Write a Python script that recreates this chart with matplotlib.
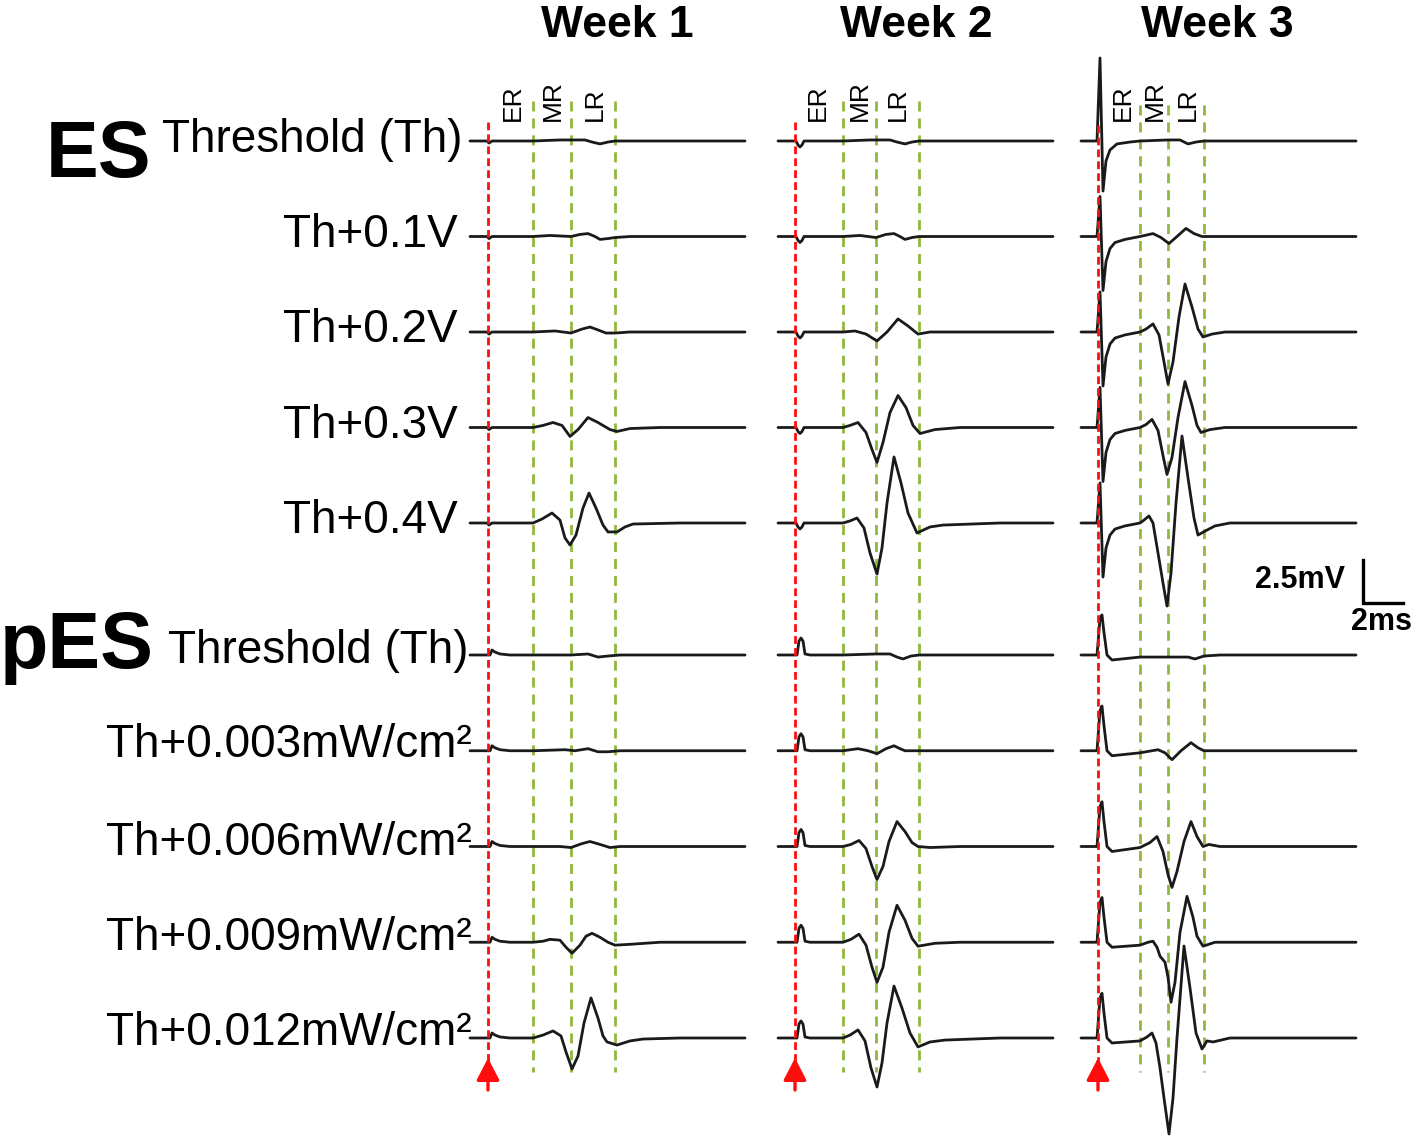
import matplotlib
matplotlib.use("Agg")
import matplotlib.pyplot as plt

plt.rcParams["font.family"] = ["Liberation Sans", "DejaVu Sans"]

W, H = 1418, 1141
PX_PER_MS = 20.0
PX_PER_MV = 17.2

# ---- text ----
weeks = ["Week 1", "Week 2", "Week 3"]
es_labels = ["Threshold (Th)", "Th+0.1V", "Th+0.2V", "Th+0.3V", "Th+0.4V"]
pes_labels = ["Threshold (Th)", "Th+0.003mW/cm²", "Th+0.006mW/cm²",
              "Th+0.009mW/cm²", "Th+0.012mW/cm²"]
window_names = ["ER", "MR", "LR"]

# ---- data: times in ms after stimulus, voltages in mV ----
# end of the ER / MR / LR windows
w1_windows = [2.25, 4.15, 6.35]
w2_windows = [2.4, 4.05, 6.2]
w3_windows = [2.1, 3.5, 5.3]

# recorded span
w1_span = [-0.9, 12.85]
w2_span = [-0.85, 12.9]
w3_span = [-0.85, 12.9]

# stimulus artifacts
w1_es_art = [(-0.05, 0), (0.05, -0.12), (0.2, 0)]
w1_pes_art = [(0.1, 0), (0.2, 0.29), (0.35, 0.17), (0.6, 0.06), (1.1, 0)]
w2_es_art = [(0.05, 0), (0.15, -0.23), (0.25, -0.35), (0.35, -0.23), (0.45, 0)]
w2_pes_art = [(0.1, 0), (0.2, 0.81), (0.3, 0.99), (0.4, 0.81), (0.5, 0.06), (0.75, 0)]
w3_es_art_first = [(-0.05, 0), (0.1, 4.83), (0.25, -2.91), (0.4, -1.16),
                   (0.6, -0.52), (0.95, -0.17), (1.6, -0.06)]
w3_es_art = [(-0.05, 0), (0.1, 2.33), (0.25, -3.14), (0.4, -1.45),
             (0.6, -0.7), (0.85, -0.35), (1.35, -0.17)]
w3_pes_art_first = [(-0.05, 0), (0.1, 2.1), (0.2, 2.33), (0.3, 1.3), (0.45, 0), (0.7, -0.29)]
w3_pes_art = [(-0.05, 0), (0.1, 2.33), (0.2, 2.6), (0.3, 1.45), (0.45, 0), (0.7, -0.29)]

# evoked responses, one list per stimulus level
w1_es = [
    [(2.25, 0), (3.6, 0.06), (4.85, 0.06), (5.2, -0.06), (5.6, -0.17), (6.0, -0.06), (6.35, 0)],
    [(2.25, 0), (3.1, 0.06), (4.15, 0), (4.6, 0.12), (5.0, 0.17), (5.35, 0), (5.6, -0.17),
     (6.0, -0.12), (6.35, -0.06), (7.1, 0)],
    [(2.25, 0), (3.35, 0.06), (4.15, -0.06), (4.7, 0.17), (5.1, 0.29), (5.5, 0.12),
     (5.9, -0.06), (6.35, -0.06), (7.1, 0)],
    [(2.25, 0), (2.75, 0.12), (3.25, 0.29), (3.7, 0.12), (4.1, -0.52), (4.5, -0.12), (5.0, 0.58),
     (5.5, 0.29), (6.1, -0.12), (6.45, -0.23), (7.1, -0.06), (8.6, 0)],
    [(2.25, 0), (2.7, 0.23), (3.2, 0.58), (3.6, 0.17), (3.85, -0.87), (4.1, -1.28), (4.4, -0.7),
     (4.75, 0.87), (5.05, 1.74), (5.4, 0.87), (5.75, -0.12), (6.0, -0.52), (6.45, -0.52),
     (6.85, -0.23), (7.25, -0.06), (9.6, 0)],
]
w1_pes = [
    [(2.25, 0), (4.15, 0), (5.0, 0.06), (5.5, -0.12), (6.0, -0.06), (6.6, 0)],
    [(2.25, 0), (3.85, 0.06), (4.35, 0), (5.0, 0.12), (5.5, -0.06), (6.0, -0.06), (6.6, 0)],
    [(2.25, 0), (3.6, 0), (4.15, -0.06), (4.7, 0.17), (5.1, 0.29), (5.6, 0.12), (6.1, -0.06), (6.6, 0)],
    [(2.25, 0), (2.75, 0.06), (3.1, 0.17), (3.6, 0.12), (3.9, -0.29), (4.2, -0.64), (4.6, -0.17),
     (4.9, 0.35), (5.2, 0.52), (5.6, 0.29), (6.0, 0), (6.35, -0.17), (7.1, -0.12), (8.6, 0)],
    [(2.25, 0), (2.75, 0.17), (3.25, 0.41), (3.65, 0.12), (3.9, -0.81), (4.2, -1.8), (4.5, -1.05),
     (4.8, 0.87), (5.15, 2.33), (5.5, 1.16), (5.75, 0.12), (5.95, -0.23), (6.45, -0.41),
     (7.1, -0.17), (7.75, -0.06), (9.6, 0)],
]
w2_es = [
    [(2.4, 0), (3.75, 0.06), (4.75, 0.06), (5.1, -0.06), (5.5, -0.17), (5.85, -0.06), (6.2, 0)],
    [(2.4, 0), (3.25, 0.06), (4.05, -0.06), (4.55, 0.12), (4.95, 0.17), (5.25, 0), (5.5, -0.17),
     (5.85, -0.06), (6.2, 0)],
    [(2.4, 0), (3.0, 0.06), (3.55, -0.12), (4.1, -0.52), (4.6, 0), (5.15, 0.76), (5.65, 0.35),
     (6.15, -0.12), (6.75, 0)],
    [(2.4, 0), (2.75, 0.12), (3.15, 0.29), (3.55, -0.29), (3.85, -1.28), (4.1, -2.03), (4.4, -0.87),
     (4.75, 0.87), (5.15, 1.86), (5.55, 1.16), (5.9, 0.12), (6.25, -0.35), (7.0, -0.12), (8.25, 0)],
    [(2.4, 0), (2.75, 0.12), (3.1, 0.29), (3.45, -0.29), (3.75, -1.74), (4.1, -2.97), (4.35, -1.45),
     (4.6, 1.16), (4.95, 3.84), (5.3, 2.33), (5.65, 0.58), (6.1, -0.58), (6.75, -0.23),
     (7.4, -0.12), (10.25, 0)],
]
w2_pes = [
    [(2.4, 0), (4.05, 0.06), (4.75, 0.06), (5.1, -0.12), (5.4, -0.23), (5.8, -0.06), (6.2, 0)],
    [(2.4, 0), (3.15, 0.12), (3.65, 0), (4.1, -0.17), (4.55, 0.12), (4.95, 0.29), (5.25, 0.12), (5.5, 0)],
    [(2.4, 0), (2.8, 0.12), (3.2, 0.35), (3.55, -0.12), (3.85, -1.16), (4.1, -1.92), (4.4, -1.16),
     (4.7, 0.29), (5.1, 1.45), (5.5, 0.87), (5.85, 0.23), (6.15, 0), (6.75, -0.06), (8.25, 0)],
    [(2.4, 0), (2.8, 0.17), (3.2, 0.47), (3.55, -0.17), (3.85, -1.45), (4.1, -2.33), (4.4, -1.45),
     (4.7, 0.58), (5.1, 2.15), (5.5, 1.28), (5.85, 0.23), (6.15, -0.23), (7.0, -0.06), (8.25, 0)],
    [(2.4, 0), (2.75, 0.17), (3.15, 0.47), (3.5, -0.17), (3.8, -1.74), (4.1, -2.85), (4.35, -1.45),
     (4.6, 0.87), (4.95, 3.02), (5.35, 1.74), (5.75, 0.29), (6.15, -0.52), (6.75, -0.23),
     (7.5, -0.12), (10.25, 0)],
]
w3_es = [
    [(2.1, 0), (3.5, 0.06), (4.1, 0.06), (4.5, -0.17), (4.9, -0.06), (5.3, 0)],
    [(2.1, 0), (2.75, 0.17), (3.15, -0.06), (3.55, -0.41), (3.95, 0), (4.4, 0.47), (4.8, 0.17), (5.2, 0)],
    [(2.1, 0), (2.4, 0.17), (2.75, 0.47), (3.05, -0.17), (3.3, -1.74), (3.5, -3.02), (3.75, -1.74),
     (4.05, 0.87), (4.35, 2.79), (4.7, 1.45), (5.0, 0.17), (5.25, -0.29), (5.7, -0.12), (6.35, 0)],
    [(2.1, 0), (2.4, 0.17), (2.7, 0.47), (3.0, -0.17), (3.25, -1.63), (3.45, -2.73), (3.7, -1.74),
     (4.0, 0.58), (4.35, 2.67), (4.7, 1.28), (4.95, 0.12), (5.15, -0.29), (5.6, -0.12), (6.35, 0)],
    [(2.1, 0), (2.3, 0.17), (2.55, 0.41), (2.75, 0), (3.0, -1.74), (3.25, -3.49), (3.45, -4.83),
     (3.65, -2.91), (3.9, 1.16), (4.2, 5.06), (4.5, 2.62), (4.8, 0.29), (5.0, -0.7), (5.45, -0.41),
     (5.85, -0.17), (6.6, 0)],
]
w3_pes = [
    [(2.1, -0.12), (3.5, -0.12), (4.5, -0.12), (4.85, -0.23), (5.3, -0.06), (6.1, 0)],
    [(2.1, -0.12), (3.0, 0.06), (3.35, -0.12), (3.7, -0.52), (4.15, 0), (4.65, 0.47), (5.0, 0.17),
     (5.3, 0), (6.1, 0)],
    [(2.1, -0.06), (2.6, 0.23), (2.95, 0.58), (3.25, -0.29), (3.5, -1.63), (3.7, -2.38), (3.95, -1.45),
     (4.3, 0.29), (4.65, 1.45), (4.95, 0.58), (5.25, 0), (5.55, 0.12), (6.1, 0)],
    [(2.1, -0.17), (2.5, 0), (2.75, 0.06), (2.95, -0.29), (3.1, -0.81), (3.35, -1.16), (3.5, -2.03),
     (3.65, -3.49), (3.85, -2.33), (4.1, 0.58), (4.45, 2.67), (4.75, 1.45), (4.95, 0.35),
     (5.25, -0.23), (5.85, 0)],
    [(2.1, -0.17), (2.45, 0.06), (2.7, 0.29), (2.9, -0.29), (3.1, -1.74), (3.3, -3.49), (3.55, -5.58),
     (3.75, -3.49), (3.95, 0), (4.3, 5.35), (4.6, 2.91), (4.9, 0.29), (5.2, -0.64), (5.45, -0.17),
     (5.75, -0.23), (6.6, 0)],
]

# ---- layout (pixels) ----
red_px = [488, 795, 1098]
es_rows_px = [141, 236.5, 332, 427.5, 523]
pes_rows_px = [655, 750.75, 846.5, 942.25, 1038]
title_x_px = [617, 916, 1217]
win_label_px = [[513, 553, 595], [818, 860, 898], [1123, 1155, 1188]]
green_top_px = [101, 101, 105]
red_top_px = [122, 122, 125]

TRACE_COLOR = "#1a1a1a"
RED = "#ff0d0d"
GREEN = "#8fb83c"


def fx(x):
    return x / W


def fy(y):
    return 1 - y / H


def mv(y):
    return -y / PX_PER_MV


def build(span, art, resp):
    pts = [(span[0], 0)] + list(art) + list(resp) + [(span[1], 0)]
    return [p[0] for p in pts], [p[1] for p in pts]


fig = plt.figure(figsize=(W / 100, H / 100), dpi=100)
fig.patch.set_facecolor("white")

week_data = [
    (w1_span, w1_windows, [w1_es_art] * 5, w1_es, [w1_pes_art] * 5, w1_pes),
    (w2_span, w2_windows, [w2_es_art] * 5, w2_es, [w2_pes_art] * 5, w2_pes),
    (w3_span, w3_windows, [w3_es_art_first] + [w3_es_art] * 4, w3_es,
     [w3_pes_art_first] + [w3_pes_art] * 4, w3_pes),
]

for k, (span, windows, es_arts, es_resp, pes_arts, pes_resp) in enumerate(week_data):
    left = red_px[k] - 1.5 * PX_PER_MS
    ax = fig.add_axes([fx(left), 0, 15 * PX_PER_MS / W, 1])
    ax.set_xlim(-1.5, 13.5)
    ax.set_ylim(mv(H), 0)
    ax.axis("off")

    # window boundaries
    for t in windows:
        ax.plot([t, t], [mv(green_top_px[k]), mv(1072)], color=GREEN, lw=2.0,
                linestyle=(0, (3.6, 2.5)), zorder=1)

    # stimulus marker
    ax.plot([0, 0], [mv(red_top_px[k]), mv(1062)], color=RED, lw=2.0,
            linestyle=(0, (2.8, 1.5)), zorder=3)
    ax.annotate("", xy=(0, mv(1058)), xytext=(0, mv(1090)),
                arrowprops=dict(arrowstyle="-|>,head_length=1.35,head_width=0.7",
                                color=RED, lw=2.4, shrinkA=0, shrinkB=0))

    for i in range(5):
        t, v = build(span, es_arts[i], es_resp[i])
        ax.plot(t, [mv(es_rows_px[i]) + x for x in v], color=TRACE_COLOR, lw=2.0,
                solid_joinstyle="round", solid_capstyle="round", zorder=2)
        t, v = build(span, pes_arts[i], pes_resp[i])
        ax.plot(t, [mv(pes_rows_px[i]) + x for x in v], color=TRACE_COLOR, lw=2.0,
                solid_joinstyle="round", solid_capstyle="round", zorder=2)

    fig.text(fx(title_x_px[k]), fy(37), weeks[k], fontsize=32, fontweight="bold",
             ha="center", va="baseline")
    for name, xp in zip(window_names, win_label_px[k]):
        fig.text(fx(xp), fy(121), name, fontsize=19, rotation=90,
                 ha="center", va="bottom")

    if k == 2:
        # scale bar: 2.5 mV / 2 ms
        x0, y0 = 13.25, mv(603)
        ax.plot([x0, x0, x0 + 2.0], [y0 + 2.5, y0, y0], color="black", lw=2.4,
                clip_on=False, solid_joinstyle="miter")

fig.text(fx(1345), fy(588), "2.5mV", fontsize=22, fontweight="bold", ha="right", va="baseline")
fig.text(fx(1382), fy(630), "2ms", fontsize=22, fontweight="bold", ha="center", va="baseline")

# group headings
fig.text(fx(46), fy(177), "ES", fontsize=57, fontweight="bold", ha="left", va="baseline")
fig.text(fx(0), fy(668), "pES", fontsize=57, fontweight="bold", ha="left", va="baseline")

es_label_right = [463, 458, 458, 458, 458]
es_label_base = [152, 247, 342, 438, 533]
pes_label_right = [468, 472, 472, 472, 472]
pes_label_base = [663, 757, 855, 950, 1045]
for i in range(5):
    fs = 33
    fig.text(fx(es_label_right[i]), fy(es_label_base[i]), es_labels[i], fontsize=fs,
             ha="right", va="baseline")
    fig.text(fx(pes_label_right[i]), fy(pes_label_base[i]), pes_labels[i], fontsize=fs,
             ha="right", va="baseline")

fig.savefig("out.png", dpi=100, facecolor="white")
